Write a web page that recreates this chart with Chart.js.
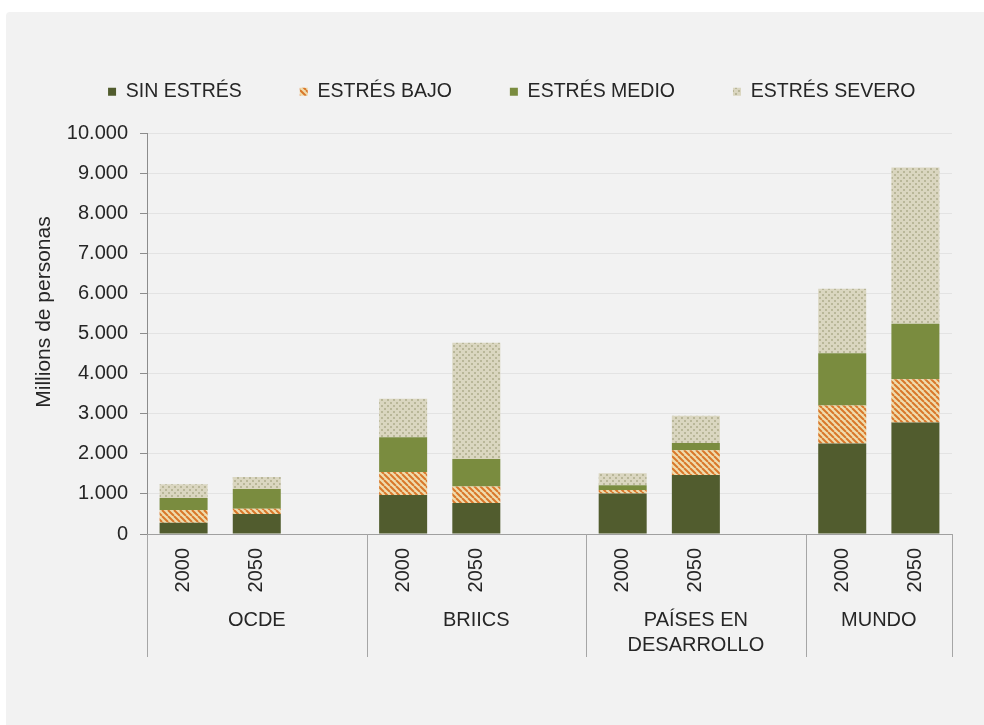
<!DOCTYPE html>
<html>
<head>
<meta charset="utf-8">
<script src="https://cdn.jsdelivr.net/npm/chart.js@4.4.1/dist/chart.umd.min.js"></script>
<style>
  html, body { margin: 0; padding: 0; background: #fff; }
  #panel { position: absolute; left: 6px; top: 12px; width: 978px; height: 713px; background: #f2f2f2; border-top-left-radius: 4px; }
  canvas { display: block; }
</style>
</head>
<body>
<div id="panel"><canvas id="stressChart" width="978" height="713"></canvas></div>
<script>
// categorías (los huecos separan los grupos)
const years = ['2000', '2050', '', '2000', '2050', '', '2000', '2050', '', '2000', '2050'];
const groupLabels = ['OCDE', 'BRIICS', ['PAÍSES EN', 'DESARROLLO'], 'MUNDO'];
const groupSpans = [3, 3, 3, 2];

// millones de personas por nivel de estrés
const sinEstres    = [280, 500, null, 975, 775, null, 1010, 1475, null, 2260, 2785];
const estresBajo   = [320, 130, null, 575, 410, null, 90, 615, null, 950, 1080];
const estresMedio  = [300, 495, null, 865, 690, null, 115, 185, null, 1300, 1385];
const estresSevero = [340, 300, null, 960, 2900, null, 300, 675, null, 1615, 3900];

const yMax = 10000;
const yStep = 1000;

const FONT = '"Liberation Sans", Arial, sans-serif';
const TEXT = '#262626';

const canvas = document.getElementById('stressChart');
const mainCtx = canvas.getContext('2d');

// trama rayada naranja
function makeStripes() {
    const c = document.createElement('canvas');
    c.width = 6; c.height = 6;
    const g = c.getContext('2d');
    g.fillStyle = '#efdcad';
    g.fillRect(0, 0, 6, 6);
    g.strokeStyle = '#d9772a';
    g.lineWidth = 2;
    g.beginPath();
    for (const k of [-6, 0, 6]) { g.moveTo(k, 0); g.lineTo(k + 6, 6); }
    g.stroke();
    return mainCtx.createPattern(c, 'repeat');
}

// trama punteada beige
function makeDots() {
    const c = document.createElement('canvas');
    c.width = 6; c.height = 6;
    const g = c.getContext('2d');
    g.fillStyle = '#dad6c0';
    g.fillRect(0, 0, 6, 6);
    g.fillStyle = '#b9b799';
    g.fillRect(0, 0, 2, 2);
    g.fillRect(3, 3, 2, 2);
    return mainCtx.createPattern(c, 'repeat');
}

// espacio extra bajo la leyenda
const legendGap = {
    id: 'legendGap',
    beforeInit(chart) {
        const fit = chart.legend.fit;
        chart.legend.fit = function () {
            fit.call(this);
            this.height += 22;
        };
    }
};

// título del eje Y
const yTitle = {
    id: 'yTitle',
    afterDraw(chart) {
        const ctx = chart.ctx;
        ctx.save();
        ctx.translate(38, 300);
        ctx.rotate(-Math.PI / 2);
        ctx.font = '21px ' + FONT;
        ctx.fillStyle = TEXT;
        ctx.textAlign = 'center';
        ctx.textBaseline = 'middle';
        ctx.fillText('Millions de personas', 0, 0);
        ctx.restore();
    }
};

// etiquetas de grupo y líneas separadoras bajo el eje X
const groupAxis = {
    id: 'groupAxis',
    afterDraw(chart) {
        const { ctx, chartArea } = chart;
        const x = chart.scales.x;
        const half = (x.getPixelForValue(1) - x.getPixelForValue(0)) / 2;
        const bottom = chartArea.bottom + 123;
        ctx.save();
        ctx.strokeStyle = '#a6a6a6';
        ctx.lineWidth = 1;
        ctx.font = '20px ' + FONT;
        ctx.fillStyle = TEXT;
        ctx.textAlign = 'center';
        ctx.textBaseline = 'middle';
        let start = 0;
        const edges = [x.getPixelForValue(0) - half];
        groupLabels.forEach((name, i) => {
            const end = start + groupSpans[i] - 1;
            const left = x.getPixelForValue(start) - half;
            const right = x.getPixelForValue(end) + half;
            edges.push(right);
            const lines = Array.isArray(name) ? name : [name];
            lines.forEach((t, j) => ctx.fillText(t, (left + right) / 2, chartArea.bottom + 86 + j * 25));
            start = end + 1;
        });
        ctx.beginPath();
        edges.forEach(e => {
            const px = Math.round(e) + 0.5;
            ctx.moveTo(px, chartArea.bottom);
            ctx.lineTo(px, bottom);
        });
        ctx.stroke();
        ctx.restore();
    }
};

const barOpts = { barPercentage: 0.82, categoryPercentage: 0.8, borderWidth: 0 };

new Chart(mainCtx, {
    type: 'bar',
    data: {
        labels: years,
        datasets: [
            { label: 'SIN ESTRÉS', data: sinEstres, backgroundColor: '#515c2e', ...barOpts },
            { label: 'ESTRÉS BAJO', data: estresBajo, backgroundColor: makeStripes(), ...barOpts },
            { label: 'ESTRÉS MEDIO', data: estresMedio, backgroundColor: '#7a8c3f', ...barOpts },
            { label: 'ESTRÉS SEVERO', data: estresSevero, backgroundColor: makeDots(), ...barOpts }
        ]
    },
    options: {
        responsive: false,
        animation: false,
        layout: { padding: { left: 33.5, right: 0, top: 12, bottom: 0 } },
        plugins: {
            tooltip: { enabled: false },
            legend: {
                position: 'top',
                labels: {
                    boxWidth: 8,
                    boxHeight: 8,
                    padding: 58,
                    color: TEXT,
                    font: { family: FONT, size: 19.5 }
                }
            }
        },
        scales: {
            x: {
                stacked: true,
                grid: { display: false, drawTicks: false },
                border: { display: true, color: '#a0a0a0' },
                ticks: {
                    autoSkip: false,
                    minRotation: 90,
                    maxRotation: 90,
                    padding: 14,
                    color: TEXT,
                    font: { family: FONT, size: 20 }
                },
                afterFit(scale) { scale.height = 191; }
            },
            y: {
                stacked: true,
                min: 0,
                max: yMax,
                grid: { color: '#e3e3e3', tickColor: '#8c8c8c', tickLength: 7 },
                border: { color: '#8c8c8c' },
                ticks: {
                    stepSize: yStep,
                    padding: 12,
                    color: TEXT,
                    font: { family: FONT, size: 20 },
                    callback: v => String(v).replace(/\B(?=(\d{3})+(?!\d))/g, '.')
                },
                afterFit(scale) { scale.width = 107.5; }
            },
            // eje vacío a la derecha: sólo reserva el margen derecho
            margen: {
                position: 'right',
                grid: { display: false },
                border: { display: false },
                ticks: { display: false },
                afterFit(scale) { scale.width = 32; }
            }
        }
    },
    plugins: [legendGap, yTitle, groupAxis]
});
</script>
</body>
</html>
